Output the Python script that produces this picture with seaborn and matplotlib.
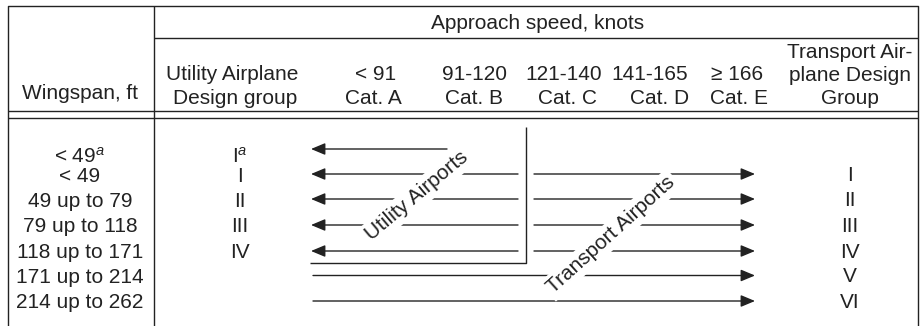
"""
Airplane design group vs. approach speed category table (utility / transport airports).
Output: out.png (921x326)
"""
import matplotlib
matplotlib.use("Agg")
import matplotlib.pyplot as plt
import seaborn as sns
import pandas as pd

# ---- table content ----
wingspan = ["< 49$^a$", "< 49", "49 up to 79", "79 up to 118",
            "118 up to 171", "171 up to 214", "214 up to 262"]
utility_group = ["I$^a$", "I", "II", "III", "IV", "", ""]
transport_group = ["", "I", "II", "III", "IV", "V", "VI"]
speed_range = ["< 91", "91-120", "121-140", "141-165", "\u2265 166"]
speed_cat = ["Cat. A", "Cat. B", "Cat. C", "Cat. D", "Cat. E"]
transport_header = ["Transport Air-", "plane Design", "Group"]
utility_header = ["Utility Airplane", "Design group"]

rows = pd.DataFrame({"wingspan": wingspan, "utility": utility_group,
                     "transport": transport_group})

# ---- layout (pixel coordinates of the 921x326 picture) ----
W, H = 921, 326
LEFT, RIGHT, TOP = 8, 918, 6
DIVIDER_X = 154
SUBHEAD_Y = 38
DOUBLE_Y = (110.5, 118)

text_y = [156, 175, 200, 225, 251, 276, 301]
arrow_y = [149, 174, 199, 225, 251, 275.5, 301]
WING_X, UTIL_X, TRANS_X = 80, 240, 850

HEAD_LEFT = 311       # tip of left-pointing arrows
LINE_START = 313      # start of plain lines (rows V, VI)
BOX_X, BOX_TOP, BOX_BOTTOM = 526, 127, 263
BOX_GAP = 8
HEAD_RIGHT = 755
SHORT_END = 447       # row I^a only reaches into Cat. B

speed_x = [376, 474, 564, 650, 737]
cat_x = [373, 474, 567, 660, 739]

INK = "#222222"
FS = 15

sns.set_theme(style="white")
plt.rcParams["font.family"] = ["Liberation Sans", "DejaVu Sans"]
plt.rcParams["mathtext.fontset"] = "custom"
plt.rcParams["mathtext.rm"] = "Liberation Sans"
plt.rcParams["mathtext.it"] = "Liberation Sans:italic"

fig = plt.figure(figsize=(W / 100, H / 100), dpi=100)
ax = fig.add_axes([0, 0, 1, 1])
ax.set_xlim(0, W)
ax.set_ylim(H, 0)
ax.axis("off")

line_kw = dict(color=INK, lw=1.0, solid_capstyle="butt")

# table rules
ax.plot([LEFT, LEFT, RIGHT, RIGHT], [H, TOP, TOP, H], **line_kw)
ax.plot([DIVIDER_X, DIVIDER_X], [TOP, H], **line_kw)
ax.plot([DIVIDER_X, RIGHT], [SUBHEAD_Y, SUBHEAD_Y], **line_kw)
for y in DOUBLE_Y:
    ax.plot([LEFT, RIGHT], [y, y], **line_kw)


def put(x, y, s, **kw):
    ax.text(x, y + 7, s, ha="center", va="baseline", fontsize=FS, color=INK, **kw)


# header text
put((DIVIDER_X + RIGHT) / 2 + 2, 22, "Approach speed, knots")
put(WING_X, 92, "Wingspan, ft")
put(232, 73, utility_header[0])
put(235, 97, utility_header[1])
for x, s in zip(speed_x, speed_range):
    put(x, 73, s)
for x, s in zip(cat_x, speed_cat):
    put(x, 97, s)
for y, s in zip([51, 74, 97], transport_header):
    put(TRANS_X, y, s)

# body text
for i, r in rows.iterrows():
    put(WING_X, text_y[i], r["wingspan"])
    if r["utility"]:
        put(UTIL_X, text_y[i], r["utility"])
    if r["transport"]:
        put(TRANS_X, arrow_y[i], r["transport"])

# arrows
head = dict(arrowstyle="-|>,head_length=0.86,head_width=0.36", mutation_scale=10,
            color=INK, lw=1.0, shrinkA=0, shrinkB=0)


def arrow(x0, x1, y):
    ax.annotate("", xy=(x1, y), xytext=(x0, y), arrowprops=head, zorder=2)


for i, r in rows.iterrows():
    y = arrow_y[i]
    if r["utility"]:
        end = SHORT_END if not r["transport"] else BOX_X - BOX_GAP
        arrow(end, HEAD_LEFT, y)
    if r["transport"]:
        start = BOX_X + BOX_GAP if r["utility"] else LINE_START
        arrow(start, HEAD_RIGHT, y)

# utility-airport box
ax.plot([HEAD_LEFT - 1, BOX_X, BOX_X], [BOX_BOTTOM, BOX_BOTTOM, BOX_TOP], **line_kw)

# diagonal labels, with white boxes that break the lines they cross
label_box = dict(boxstyle="square,pad=0.15", fc="white", ec="none")
ax.text(417, 196, "Utility Airports", rotation=40, rotation_mode="anchor",
        ha="center", va="center", fontsize=FS, color=INK, bbox=label_box, zorder=5)
ax.text(611, 235, "Transport Airports", rotation=42, rotation_mode="anchor",
        ha="center", va="center", fontsize=FS, color=INK, bbox=label_box, zorder=5)

fig.savefig("out.png", dpi=100)
plt.close(fig)
